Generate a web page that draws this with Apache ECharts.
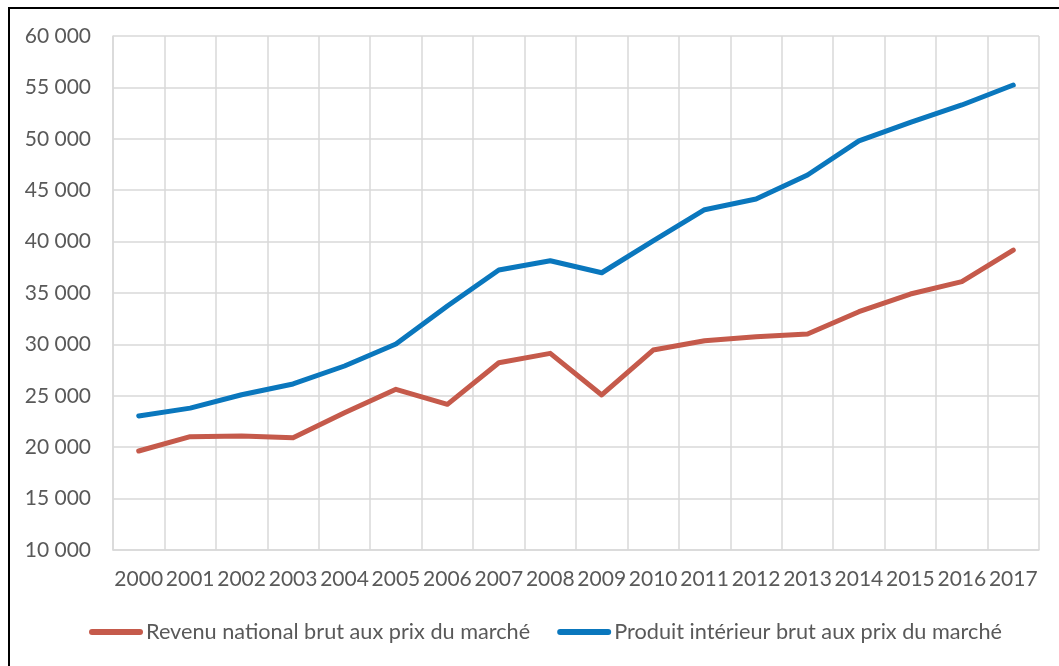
<!DOCTYPE html>
<html>
<head>
<meta charset="utf-8">
<script src="https://cdn.jsdelivr.net/npm/echarts@6/dist/echarts.min.js"></script>
<style>
    html, body { margin: 0; padding: 0; background: #fff; }
    #chart { width: 1059px; height: 666px; }
</style>
</head>
<body>
<div id="chart"></div>
<script>
const years = ['2000', '2001', '2002', '2003', '2004', '2005', '2006', '2007', '2008',
    '2009', '2010', '2011', '2012', '2013', '2014', '2015', '2016', '2017']
const revenuNational = [19630, 21020, 21090, 20920, 23350, 25630, 24170, 28220, 29130,
    25080, 29450, 30360, 30750, 31010, 33180, 34900, 36100, 39180]
const produitInterieur = [23040, 23800, 25100, 26150, 27900, 30040, 33740, 37240, 38140,
    36970, 40060, 43100, 44140, 46480, 49800, 51600, 53290, 55230]
const seriesNames = ['Revenu national brut aux prix du marché', 'Produit intérieur brut aux prix du marché']

const chart = echarts.init(document.getElementById('chart'))
const textColor = '#595959'
const gridColor = '#d9d9d9'
const font = 'Lato, "Open Sans", sans-serif'

chart.setOption({
    animation: false,
    textStyle: { fontFamily: font },
    graphic: [
        {
            // cadre noir autour du graphique
            type: 'rect',
            shape: { x: 9, y: 8, width: 1100, height: 700 },
            style: { fill: 'none', stroke: '#000', lineWidth: 2 },
        },
    ],
    grid: { left: 113, right: 20, top: 36, bottom: 116 },
    legend: {
        data: seriesNames,
        bottom: 18,
        left: 84,
        icon: 'path://M3,0 L51,0 A3,3 0 0 1 51,6 L3,6 A3,3 0 0 1 3,0 Z',
        itemWidth: 54,
        itemHeight: 6,
        itemGap: 27,
        textStyle: { color: textColor, fontSize: 21.7, fontFamily: font, padding: [0, 0, 0, -2] },
    },
    xAxis: {
        type: 'category',
        data: years,
        boundaryGap: true,
        axisLine: { lineStyle: { color: gridColor, width: 1.5 } },
        axisTick: { show: false },
        axisLabel: { color: textColor, fontSize: 21, margin: 19, interval: 0 },
        splitLine: { show: true, interval: 0, lineStyle: { color: gridColor, width: 1.5 } },
    },
    yAxis: {
        type: 'value',
        min: 10000,
        max: 60000,
        interval: 5000,
        axisLine: { show: true, lineStyle: { color: gridColor, width: 1.5 } },
        axisTick: { show: false },
        axisLabel: {
            color: textColor,
            fontSize: 21,
            margin: 22,
            formatter: v => String(v).replace(/\B(?=(\d{3})+(?!\d))/g, ' '),
        },
        splitLine: { lineStyle: { color: gridColor, width: 1.5 } },
    },
    series: [
        {
            name: seriesNames[0],
            type: 'line',
            data: revenuNational,
            symbol: 'none',
            color: '#c55a4b',
            lineStyle: { width: 5, cap: 'round', join: 'round' },
        },
        {
            name: seriesNames[1],
            type: 'line',
            data: produitInterieur,
            symbol: 'none',
            color: '#0a77bd',
            lineStyle: { width: 5, cap: 'round', join: 'round' },
        },
    ],
})
</script>
</body>
</html>
